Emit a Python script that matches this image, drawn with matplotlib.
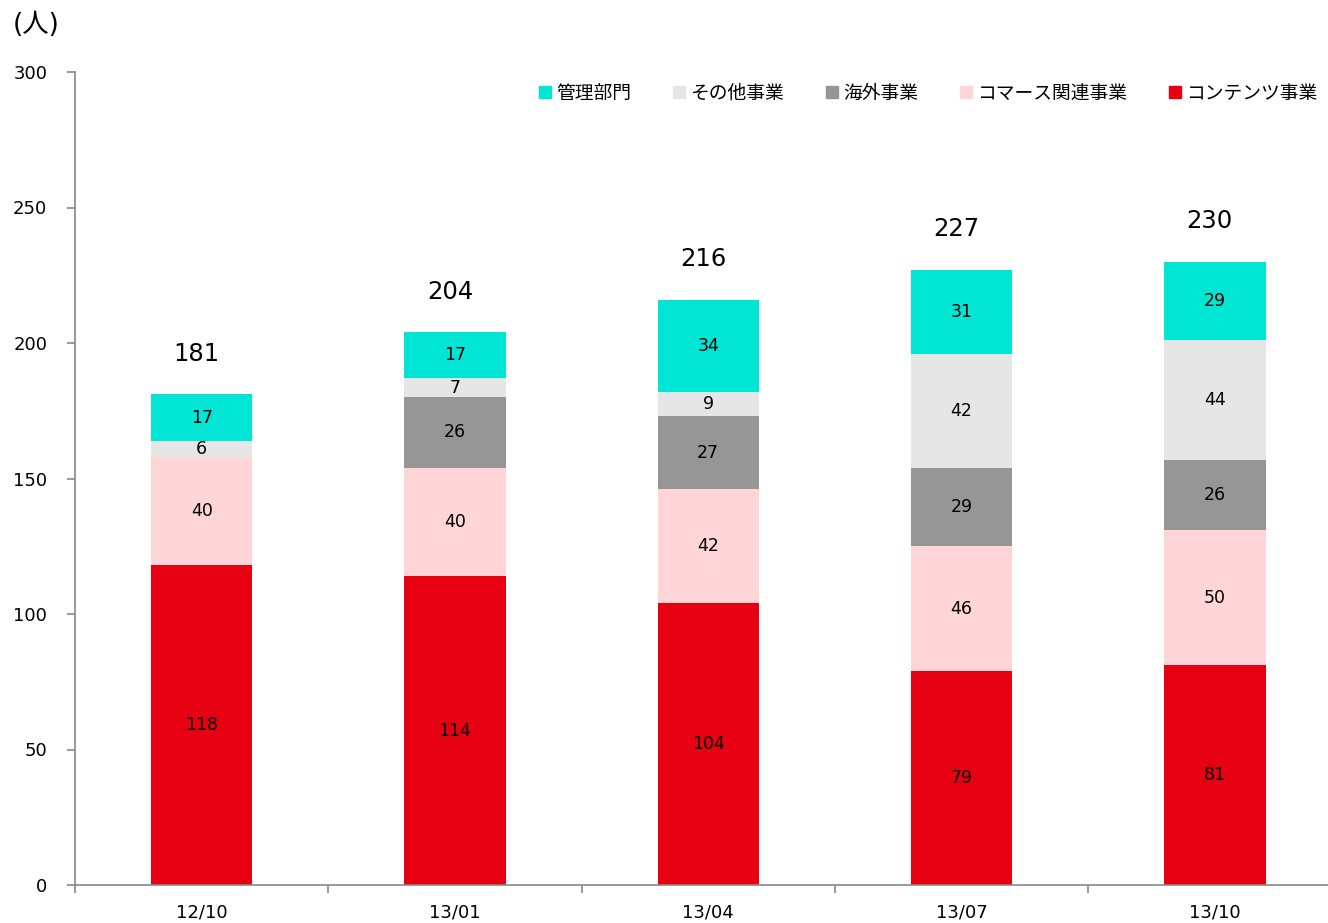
import matplotlib
matplotlib.use("Agg")
import matplotlib.pyplot as plt
import numpy as np
from matplotlib.patches import Patch

plt.rcParams['font.family'] = ['DejaVu Sans', 'Noto Sans CJK JP']

periods = ['12/10', '13/01', '13/04', '13/07', '13/10']
series_names = ['コンテンツ事業', 'コマース関連事業', '海外事業', 'その他事業', '管理部門']
contents = [118, 114, 104, 79, 81]
commerce = [40, 40, 42, 46, 50]
overseas = [0, 26, 27, 29, 26]
other = [6, 7, 9, 42, 44]
admin = [17, 17, 34, 31, 29]
colors = ['#E60012', '#FFD5D8', '#969696', '#E6E6E6', '#00E5D4']

series = [contents, commerce, overseas, other, admin]
totals = np.sum(series, axis=0)

fig = plt.figure(figsize=(13.28, 9.23), dpi=100)
ax = fig.add_axes([75 / 1328, 38 / 923, 5 * 253.3 / 1328, 813 / 923])

x = np.arange(len(periods))
bottom = np.zeros(len(periods))
for vals, col in zip(series, colors):
    ax.bar(x, vals, 0.4, bottom=bottom, color=col, linewidth=0)
    for xi, b, v in zip(x, bottom, vals):
        if v > 0:
            ax.text(xi, b + v / 2, str(v), ha='center', va='center', fontsize=12.5)
    bottom += vals

for xi, t in zip(x, totals):
    ax.text(xi - 0.02, t + 15, str(t), ha='center', va='center', fontsize=17.5)

ax.set_xlim(-0.5, 4.5)
ax.set_ylim(0, 300)
ax.set_yticks(range(0, 301, 50))
ax.set_xticks(x)
ax.set_xticklabels(periods)
ax.set_xticks(np.arange(-0.5, 5, 1), minor=True)
ax.tick_params(axis='x', which='major', length=0, labelsize=13, pad=13)
ax.tick_params(axis='x', which='minor', length=6, color='#888888', width=1.2)
ax.tick_params(axis='y', length=6, color='#888888', width=1.2, labelsize=13, pad=14)
for s in ['top', 'right']:
    ax.spines[s].set_visible(False)
for s in ['left', 'bottom']:
    ax.spines[s].set_color('#888888')
    ax.spines[s].set_linewidth(1.2)

handles = [Patch(color=c, label=n) for c, n in zip(colors, series_names)][::-1]
fig.legend(handles=handles, ncol=5, frameon=False, loc='center right',
           bbox_to_anchor=(1.005, 1 - 93 / 923),
           prop={'family': ['Noto Sans CJK JP'], 'size': 13.5},
           handlelength=0.65, handleheight=0.65, handletextpad=0.3, columnspacing=2.2)

fig.text(13 / 1328, 1 - 25 / 923, '(人)', fontsize=19, va='center', ha='left',
         family=['DejaVu Sans', 'Noto Sans CJK JP'])

fig.savefig('out.png', dpi=100)
